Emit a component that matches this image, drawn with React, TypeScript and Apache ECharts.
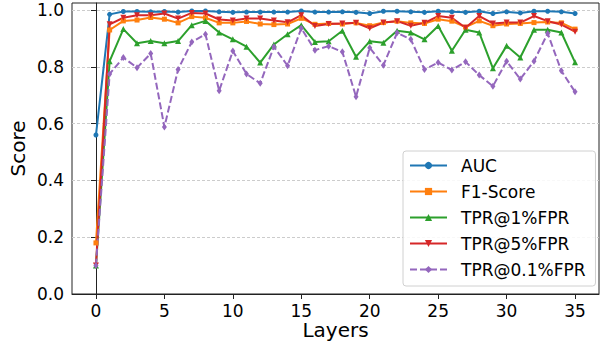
import React, { useEffect, useRef } from "react";
import * as echarts from "echarts";

const layers = Array.from({ length: 36 }, (_, i) => i);

const auc = [0.56, 0.985, 0.995, 0.995, 0.994, 0.995, 0.993, 0.997, 0.997, 0.994, 0.992, 0.993, 0.993, 0.993, 0.993, 0.997, 0.993, 0.993, 0.994, 0.992, 0.988, 0.996, 0.996, 0.994, 0.992, 0.996, 0.994, 0.992, 0.996, 0.988, 0.994, 0.990, 0.996, 0.996, 0.994, 0.988];
const f1 = [0.18, 0.93, 0.962, 0.965, 0.974, 0.968, 0.955, 0.977, 0.973, 0.955, 0.955, 0.96, 0.951, 0.949, 0.951, 0.971, 0.95, 0.953, 0.951, 0.955, 0.945, 0.956, 0.961, 0.955, 0.953, 0.968, 0.961, 0.94, 0.962, 0.945, 0.951, 0.953, 0.956, 0.958, 0.955, 0.933];
const tpr1 = [0.1, 0.82, 0.933, 0.883, 0.891, 0.883, 0.891, 0.947, 0.962, 0.921, 0.897, 0.871, 0.815, 0.879, 0.915, 0.947, 0.888, 0.89, 0.927, 0.836, 0.89, 0.885, 0.927, 0.921, 0.897, 0.944, 0.857, 0.931, 0.921, 0.795, 0.874, 0.833, 0.931, 0.931, 0.921, 0.816];
const tpr5 = [0.1, 0.95, 0.973, 0.982, 0.982, 0.988, 0.97, 0.99, 0.988, 0.967, 0.963, 0.97, 0.97, 0.963, 0.957, 0.982, 0.944, 0.951, 0.953, 0.955, 0.936, 0.956, 0.961, 0.945, 0.955, 0.979, 0.973, 0.938, 0.979, 0.953, 0.956, 0.956, 0.979, 0.961, 0.949, 0.924];
const tpr01 = [0.1, 0.775, 0.833, 0.797, 0.847, 0.588, 0.791, 0.888, 0.915, 0.716, 0.856, 0.775, 0.742, 0.871, 0.804, 0.936, 0.859, 0.873, 0.853, 0.695, 0.867, 0.806, 0.92, 0.897, 0.791, 0.815, 0.789, 0.818, 0.771, 0.732, 0.82, 0.757, 0.82, 0.918, 0.786, 0.712];

const xTicks = [0, 5, 10, 15, 20, 25, 30, 35];
const yTicks = [0, 0.2, 0.4, 0.6, 0.8, 1.0];

const FONT = "DejaVu Sans";

function pair(vals: number[]) {
  return vals.map((v, i) => [layers[i], v]);
}

export default function App() {
  const ref = useRef<HTMLDivElement>(null);
  useEffect(() => {
    if (!ref.current) return;
    const chart = echarts.init(ref.current, undefined, { renderer: "svg" });
    const mk = (name: string, data: number[], color: string, symbol: string, extra: any = {}) => ({
      name,
      type: "line",
      data: pair(data),
      symbol,
      symbolSize: 5,
      lineStyle: { color, width: 2 },
      itemStyle: { color },
      ...extra,
    });
    chart.setOption({
      animation: false,
      textStyle: { fontFamily: FONT },
      grid: {
        left: 72,
        right: 1,
        top: 3,
        bottom: 47,
        outerBoundsMode: "none",
        containLabel: false,
        show: true,
        borderColor: "#222",
        borderWidth: 1,
      },
      xAxis: {
        type: "value",
        min: -1.75,
        max: 36.75,
        name: "Layers",
        nameLocation: "middle",
        nameGap: 27,
        nameMoveOverlap: false,
        nameTextStyle: { fontSize: 20, lineHeight: 18, color: "#000", fontFamily: FONT },
        axisLine: { lineStyle: { color: "#222" } },
        axisTick: { show: true, length: 5, customValues: xTicks, lineStyle: { color: "#222" } },
        axisLabel: { customValues: xTicks, fontSize: 17, color: "#000", margin: 8, fontFamily: FONT },
        splitLine: { show: false },
      },
      yAxis: {
        type: "value",
        min: 0,
        max: 1.025,
        interval: 0.2,
        name: "Score",
        nameLocation: "middle",
        nameGap: 44,
        nameMoveOverlap: false,
        nameTextStyle: { fontSize: 20, color: "#000", fontFamily: FONT },
        axisLine: { show: true, lineStyle: { color: "#222" } },
        axisTick: { show: true, length: 5, customValues: yTicks, lineStyle: { color: "#222" } },
        axisLabel: {
          customValues: yTicks,
          fontSize: 17,
          color: "#000",
          margin: 8,
          fontFamily: FONT,
          formatter: (v: number) => v.toFixed(1),
        },
        splitLine: { show: true, lineStyle: { color: "#cccccc", type: [3, 2], width: 1 } },
      },
      legend: {
        orient: "vertical",
        left: 403,
        top: 151,
        itemWidth: 37,
        itemHeight: 9,
        itemGap: 9,
        padding: [6, 10, 8, 6],
        backgroundColor: "rgba(255,255,255,0.85)",
        borderColor: "#d0d0d0",
        borderWidth: 1,
        borderRadius: 3,
        textStyle: { fontSize: 17, lineHeight: 17, color: "#000", fontFamily: FONT, padding: [0, 0, 0, 9] },
        data: ["AUC", "F1-Score", "TPR@1%FPR", "TPR@5%FPR", "TPR@0.1%FPR"],
      },
      series: [
        mk("AUC", auc, "#1f77b4", "circle"),
        mk("F1-Score", f1, "#ff7f0e", "rect"),
        mk("TPR@1%FPR", tpr1, "#2ca02c", "triangle", { symbolSize: 6 }),
        mk("TPR@5%FPR", tpr5, "#d62728", "triangle", { symbolSize: 6, symbolRotate: 180 }),
        mk("TPR@0.1%FPR", tpr01, "#9467bd", "diamond", {
          symbolSize: [5, 7],
          lineStyle: { color: "#9467bd", width: 2, type: [7, 3] },
        }),
      ],
    });
    return () => chart.dispose();
  }, []);
  return (
    <div
      ref={ref}
      style={{ position: "fixed", left: 0, top: 0, width: 600, height: 341, background: "#fff" }}
    />
  );
}
